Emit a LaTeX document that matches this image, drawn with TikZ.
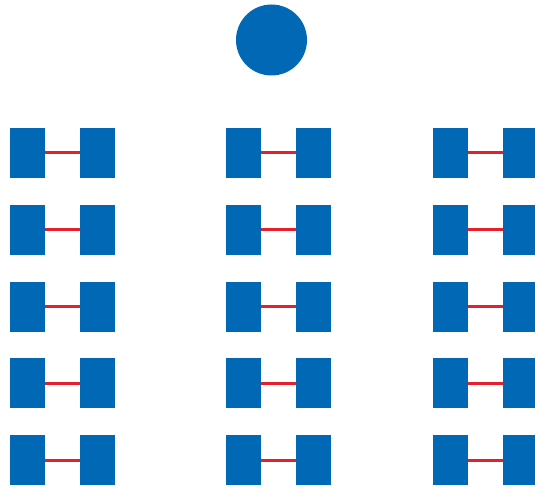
\documentclass[tikz,border=0pt]{standalone}
\usepackage{tikz}
\definecolor{padblue}{HTML}{0068B5}
\definecolor{linkred}{HTML}{E3202B}

\begin{document}
\begin{tikzpicture}[x=1pt,y=-1pt,
    pad/.style={fill=padblue,draw=none,minimum width=35pt,minimum height=50pt,inner sep=0pt},
    link/.style={draw=linkred,line width=3pt}]
\useasboundingbox (0,0) rectangle (535,489);

% Top dot
\node[circle,fill=padblue,minimum size=71pt,inner sep=0pt] (dot) at (271.5,40) {};

% Three columns of five linked pad pairs
\foreach \c/\x in {a/27.5,b/243.5,c/450.5} {
    \foreach \r/\y in {1/153,2/229.75,3/306.5,4/383.25,5/460} {
        \node[pad] (\c\r L) at (\x,\y) {};
        \node[pad] (\c\r R) at (\x+70,\y) {};
        \draw[link] (\c\r L.east) -- (\c\r R.west);
    }
}
\end{tikzpicture}
\end{document}
